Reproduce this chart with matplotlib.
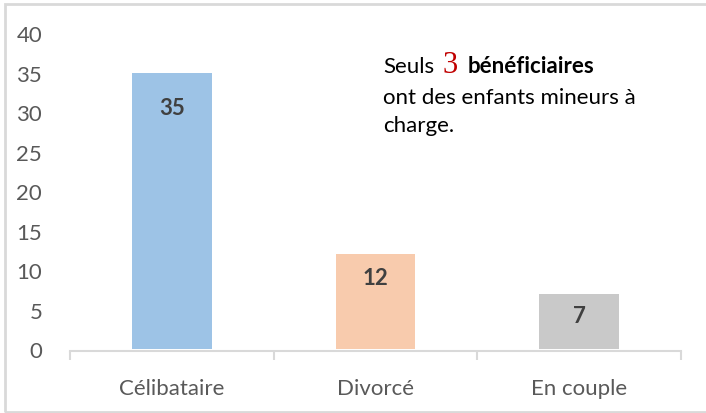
import matplotlib
matplotlib.use("Agg")
import matplotlib.pyplot as plt
from matplotlib.patches import Rectangle

# Data
categories = ["Célibataire", "Divorcé", "En couple"]
values = [35, 12, 7]
y_ticks = [0, 5, 10, 15, 20, 25, 30, 35, 40]

bar_colors = ["#9DC3E6", "#F8CBAD", "#C9C9C9"]
label_drop_pt = [25, 17, 16]
axis_gray = "#D9D9D9"
text_gray = "#595959"
FONT = ["Lato", "DejaVu Sans"]

W, H = 706, 414
fig = plt.figure(figsize=(W / 100, H / 100), dpi=100)
fig.patch.set_facecolor("white")

# Outer chart frame
fig.patches.append(Rectangle((5 / W, 1 - 413 / H), 710 / W, 408 / H,
                             transform=fig.transFigure, fill=False,
                             edgecolor=axis_gray, linewidth=2))

ax = fig.add_axes([70 / W, (H - 352.4) / H, 611 / W, (352.4 - 34) / H])
x = list(range(len(categories)))
bars = ax.bar(x, values, width=0.39, color=bar_colors, zorder=2)

ax.set_xlim(-0.5, len(categories) - 0.5)
ax.set_ylim(-0.3, 40)
ax.set_yticks(y_ticks)
ax.set_yticklabels([str(t) for t in y_ticks], fontsize=16, color=text_gray,
                   family=FONT)
ax.tick_params(axis="y", length=0, pad=20)

ax.set_xticks(x)
ax.set_xticklabels(categories, fontsize=16, color=text_gray, family=FONT)
ax.set_xticks([i - 0.5 for i in range(len(categories) + 1)], minor=True)
ax.tick_params(axis="x", which="major", length=0, pad=19)
ax.tick_params(axis="x", which="minor", length=6.5, width=1.5, color=axis_gray)

for s in ["top", "right", "left"]:
    ax.spines[s].set_visible(False)
ax.spines["bottom"].set_color(axis_gray)
ax.spines["bottom"].set_linewidth(1.5)

# Value labels inside bar tops
for rect, v, drop in zip(bars, values, label_drop_pt):
    ax.annotate(str(v), (rect.get_x() + rect.get_width() / 2, v),
                xytext=(0, -drop), textcoords="offset points",
                ha="center", va="center", fontsize=16, fontweight="bold",
                color="#404040", family=FONT)

# Callout text, composed piece by piece on the first line
fig.canvas.draw()
renderer = fig.canvas.get_renderer()
x0, base1 = 383, 73
t1 = fig.text(x0 / W, 1 - base1 / H, "Seuls", fontsize=16, color="black",
              family=FONT, va="baseline", ha="left")
bb = t1.get_window_extent(renderer)
t2 = fig.text((bb.x1 + 8) / W, 1 - base1 / H, "3", fontsize=22, color="#C00000",
              family=["Liberation Serif", "DejaVu Serif"], va="baseline", ha="left")
bb2 = t2.get_window_extent(renderer)
fig.text((bb2.x1 + 10) / W, 1 - base1 / H, "bénéficiaires", fontsize=16,
         fontweight="bold", color="black", family=FONT, va="baseline", ha="left")
fig.text(x0 / W, 1 - 104 / H, "ont des enfants mineurs à", fontsize=16,
         color="black", family=FONT, va="baseline", ha="left")
fig.text(x0 / W, 1 - 132 / H, "charge.", fontsize=16, color="black",
         family=FONT, va="baseline", ha="left")

fig.savefig("out.png", dpi=100, facecolor="white")
